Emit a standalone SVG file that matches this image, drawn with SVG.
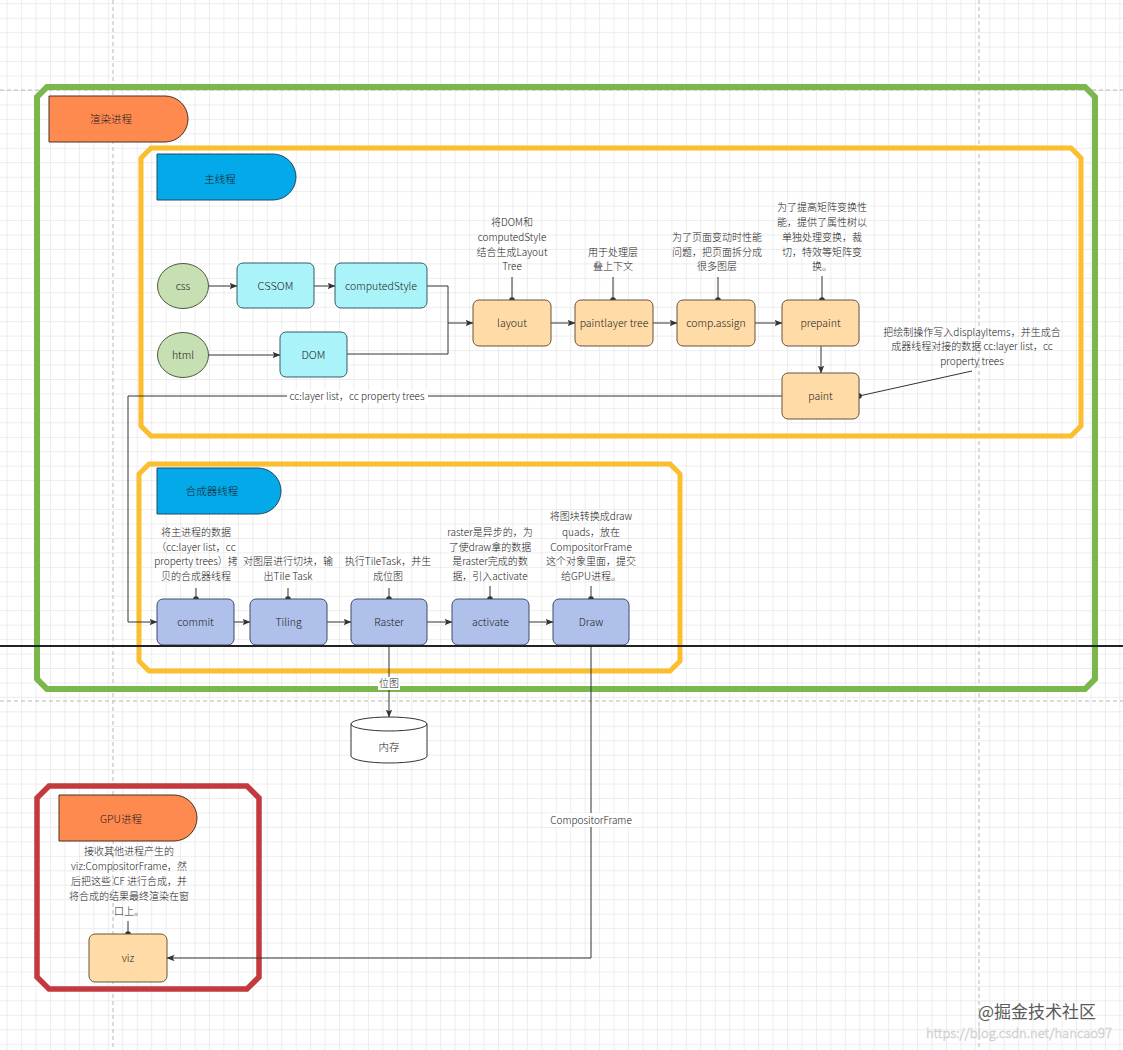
<svg xmlns="http://www.w3.org/2000/svg" width="1123" height="1050" viewBox="0 0 1123 1050">
<defs>
<pattern id="grid" x="6.7" y="3.3" width="14.45" height="14.45" patternUnits="userSpaceOnUse">
<path d="M0,0 H14.45 M0,0 V14.45" fill="none" stroke="#dcdcdc" stroke-width="1"/>
</pattern>
<marker id="arr" viewBox="0 0 8 8" refX="7.5" refY="4" markerWidth="8" markerHeight="8" markerUnits="userSpaceOnUse" orient="auto">
<path d="M0,0.8 L8,4 L0,7.2 L1.8,4 Z" fill="#333"/>
</marker>
<style>
text{font-family:"Noto Sans CJK SC","Noto Sans",sans-serif;fill:#1a1a1a;font-weight:300;}
.lbl{font-size:10.5px;text-anchor:middle;}
.ann{font-size:10px;text-anchor:middle;}
.tab{stroke:#4a3020;stroke-width:1;}
.orangeTab{fill:#FF8A50;}
.blueTab{fill:#03A9E8;stroke:#1d4a66;stroke-width:1;}
.ell{fill:#C6E0B4;stroke:#4c5c3c;stroke-width:1;}
.cyan{fill:#AAF4F9;stroke:#35596a;stroke-width:1;}
.org{fill:#FFDBA8;stroke:#6a5236;stroke-width:1;}
.blu{fill:#AFC0EA;stroke:#3e4a6a;stroke-width:1;}
.edge{fill:none;stroke:#333;stroke-width:1;}
.dot{fill:#333;}
.box{fill:none;stroke-linejoin:miter;}
</style>
</defs>

<rect width="1123" height="1050" fill="#ffffff"/>
<rect width="1123" height="1050" fill="url(#grid)"/>
<g id="page-breaks" stroke="#b8b8b8" stroke-width="1" stroke-dasharray="4,3" fill="none">
<path d="M0,90 H1123"/>
<path d="M0,701 H1123"/>
<path d="M113,0 V1050"/>
<path d="M979,0 V1050"/>
</g>

<!-- containers -->
<g id="render-process">
<polygon class="box" points="47,87 1085,87 1095,97 1095,679 1085,689 47,689 37,679 37,97" stroke="#7CB74D" stroke-width="6"/>
</g>
<g id="main-thread">
<polygon class="box" points="151,148 1071,148 1081,158 1081,426 1071,436 151,436 141,426 141,158" stroke="#FBBE2E" stroke-width="5"/>
</g>
<g id="compositor-thread">
<polygon class="box" points="149,464 670,464 680,474 680,661 670,671 149,671 139,661 139,474" stroke="#FBBE2E" stroke-width="5"/>
</g>
<g id="gpu-process">
<polygon class="box" points="49,786 247,786 259,798 259,977 247,989 49,989 37,977 37,798" stroke="#C4393D" stroke-width="5.5"/>
</g>

<!-- tabs -->
<g id="tab-render">
<path class="orangeTab tab" d="M49,96 H165 A23,23 0 0 1 165,142 H49 Z"/>
<text class="lbl" x="111" y="123">渲染进程</text>
</g>
<g id="tab-main">
<path class="blueTab" d="M157,154 H273 A23,23 0 0 1 273,200 H157 Z"/>
<text class="lbl" x="220" y="183">主线程</text>
</g>
<g id="tab-compositor">
<path class="blueTab" d="M157,468 H258 A23,23 0 0 1 258,514 H157 Z"/>
<text class="lbl" x="212" y="495">合成器线程</text>
</g>
<g id="tab-gpu">
<path class="orangeTab tab" d="M59,795 H174 A23,23 0 0 1 174,841 H59 Z"/>
<text class="lbl" x="121" y="823">GPU进程</text>
</g>

<!-- connectors -->
<g id="connectors">
<path class="edge" d="M208,286 H237" marker-end="url(#arr)"/>
<path class="edge" d="M314,286 H335" marker-end="url(#arr)"/>
<path class="edge" d="M208,355 H280" marker-end="url(#arr)"/>
<path class="edge" d="M427,286 H448 V323 H473" marker-end="url(#arr)"/>
<path class="edge" d="M347,354 H448 V323"/>
<path class="edge" d="M551,323 H575" marker-end="url(#arr)"/>
<path class="edge" d="M653,323 H677" marker-end="url(#arr)"/>
<path class="edge" d="M755,323 H782" marker-end="url(#arr)"/>
<path class="edge" d="M821,346 V373" marker-end="url(#arr)"/>
<path class="edge" d="M782,396 H128 V622 H157" marker-end="url(#arr)"/>
<path class="edge" d="M234,622 H250" marker-end="url(#arr)"/>
<path class="edge" d="M327,622 H351" marker-end="url(#arr)"/>
<path class="edge" d="M427,622 H452" marker-end="url(#arr)"/>
<path class="edge" d="M529,622 H553" marker-end="url(#arr)"/>
<path class="edge" d="M389,645 V717" marker-end="url(#arr)"/>
<path class="edge" d="M591,645 V958 H167" marker-end="url(#arr)"/>
<!-- annotation leaders -->
<path class="edge" d="M512,277 V300"/>
<path class="edge" d="M613,277 V300"/>
<path class="edge" d="M718,277 V300"/>
<path class="edge" d="M822,276 V300"/>
<path class="edge" d="M972,371 L859,396"/>
<path class="edge" d="M196,588 V599"/>
<path class="edge" d="M288,588 V599"/>
<path class="edge" d="M389,588 V599"/>
<path class="edge" d="M490,586 V599"/>
<path class="edge" d="M591,586 V599"/>
<path class="edge" d="M128,921 V934"/>
<circle class="dot" cx="512" cy="300" r="2.8"/>
<circle class="dot" cx="613" cy="300" r="2.8"/>
<circle class="dot" cx="718" cy="300" r="2.8"/>
<circle class="dot" cx="822" cy="300" r="2.8"/>
<circle class="dot" cx="859" cy="396" r="2.8"/>
<circle class="dot" cx="196" cy="599" r="2.8"/>
<circle class="dot" cx="288" cy="599" r="2.8"/>
<circle class="dot" cx="389" cy="599" r="2.8"/>
<circle class="dot" cx="490" cy="599" r="2.8"/>
<circle class="dot" cx="591" cy="599" r="2.8"/>
<circle class="dot" cx="128" cy="934" r="2.8"/>
<!-- edge labels -->
<rect x="287" y="390" width="141" height="13" fill="#ffffff"/>
<text class="ann" x="357" y="400">cc:layer list，cc property trees</text>
<rect x="378" y="677" width="22" height="13" fill="#ffffff"/>
<text class="ann" x="389" y="687">位图</text>
<rect x="548" y="813" width="87" height="14" fill="#ffffff"/>
<text class="ann" x="591" y="824">CompositorFrame</text>
</g>

<!-- main thread nodes -->
<g id="node-css">
<ellipse class="ell" cx="183" cy="286" rx="25.5" ry="22.5"/>
<text class="lbl" x="183" y="290">css</text>
</g>
<g id="node-html">
<ellipse class="ell" cx="183" cy="355" rx="25.5" ry="22.5"/>
<text class="lbl" x="183" y="359">html</text>
</g>
<g id="node-cssom">
<rect class="cyan" x="237" y="263" width="77" height="45" rx="6"/>
<text class="lbl" x="275.5" y="290" style="font-size:11px">CSSOM</text>
</g>
<g id="node-computedStyle">
<rect class="cyan" x="335" y="263" width="92" height="45" rx="6"/>
<text class="lbl" x="381" y="290">computedStyle</text>
</g>
<g id="node-dom">
<rect class="cyan" x="280" y="332" width="67" height="45" rx="6"/>
<text class="lbl" x="313.5" y="359" style="font-size:11px">DOM</text>
</g>
<g id="node-layout">
<rect class="org" x="473" y="300" width="78" height="46" rx="6"/>
<text class="lbl" x="512" y="327">layout</text>
<text class="ann"><tspan x="512" y="226">将DOM和</tspan><tspan x="512" y="241">computedStyle</tspan><tspan x="512" y="256">结合生成Layout</tspan><tspan x="512" y="270">Tree</tspan></text>
</g>
<g id="node-paintlayer">
<rect class="org" x="575" y="300" width="78" height="46" rx="6"/>
<text class="lbl" x="614" y="327">paintlayer tree</text>
<text class="ann"><tspan x="613" y="256">用于处理层</tspan><tspan x="613" y="270">叠上下文</tspan></text>
</g>
<g id="node-compassign">
<rect class="org" x="677" y="300" width="78" height="46" rx="6"/>
<text class="lbl" x="716" y="327">comp.assign</text>
<text class="ann"><tspan x="717" y="241">为了页面变动时性能</tspan><tspan x="717" y="256">问题，把页面拆分成</tspan><tspan x="717" y="270">很多图层</tspan></text>
</g>
<g id="node-prepaint">
<rect class="org" x="782" y="300" width="77" height="46" rx="6"/>
<text class="lbl" x="820.5" y="327">prepaint</text>
<text class="ann"><tspan x="822" y="211">为了提高矩阵变换性</tspan><tspan x="822" y="226">能，提供了属性树以</tspan><tspan x="822" y="241">单独处理变换，裁</tspan><tspan x="822" y="256">切，特效等矩阵变</tspan><tspan x="822" y="270">换。</tspan></text>
</g>
<g id="node-paint">
<rect class="org" x="782" y="373" width="77" height="46" rx="6"/>
<text class="lbl" x="820.5" y="400">paint</text>
<text class="ann"><tspan x="972" y="336">把绘制操作写入displayItems，并生成合</tspan><tspan x="972" y="350">成器线程对接的数据 cc:layer list，cc</tspan><tspan x="972" y="365">property trees</tspan></text>
</g>

<!-- compositor nodes -->
<g id="node-commit">
<rect class="blu" x="157" y="599" width="77" height="46" rx="6"/>
<text class="lbl" x="195.5" y="626">commit</text>
<text class="ann"><tspan x="196" y="536">将主进程的数据</tspan><tspan x="196" y="551">（cc:layer list，cc</tspan><tspan x="196" y="565">property trees）拷</tspan><tspan x="196" y="580">贝的合成器线程</tspan></text>
</g>
<g id="node-tiling">
<rect class="blu" x="250" y="599" width="77" height="46" rx="6"/>
<text class="lbl" x="288.5" y="626">Tiling</text>
<text class="ann"><tspan x="288" y="565">对图层进行切块，输</tspan><tspan x="288" y="580">出Tile Task</tspan></text>
</g>
<g id="node-raster">
<rect class="blu" x="351" y="599" width="76" height="46" rx="6"/>
<text class="lbl" x="389" y="626">Raster</text>
<text class="ann"><tspan x="388" y="565">执行TileTask，并生</tspan><tspan x="388" y="580">成位图</tspan></text>
</g>
<g id="node-activate">
<rect class="blu" x="452" y="599" width="77" height="46" rx="6"/>
<text class="lbl" x="490.5" y="626">activate</text>
<text class="ann"><tspan x="490" y="536">raster是异步的，为</tspan><tspan x="490" y="551">了使draw拿的数据</tspan><tspan x="490" y="565">是raster完成的数</tspan><tspan x="490" y="580">据，引入activate</tspan></text>
</g>
<g id="node-draw">
<rect class="blu" x="553" y="599" width="76" height="46" rx="6"/>
<text class="lbl" x="591" y="626">Draw</text>
<text class="ann"><tspan x="591" y="520">将图块转换成draw</tspan><tspan x="591" y="536">quads，放在</tspan><tspan x="591" y="551">CompositorFrame</tspan><tspan x="591" y="565">这个对象里面，提交</tspan><tspan x="591" y="580">给GPU进程。</tspan></text>
</g>

<!-- memory -->
<g id="node-memory">
<path d="M351,724 A38,7 0 0 1 427,724 V756 A38,7 0 0 1 351,756 Z" fill="#ffffff" stroke="#333" stroke-width="1"/>
<path d="M351,724 A38,7 0 0 0 427,724" fill="none" stroke="#333" stroke-width="1"/>
<text class="lbl" x="389" y="751">内存</text>
</g>

<!-- GPU -->
<g id="node-viz">
<rect class="org" x="89" y="934" width="78" height="48" rx="6"/>
<text class="lbl" x="128" y="962">viz</text>
<text class="ann"><tspan x="129" y="855">接收其他进程产生的</tspan><tspan x="129" y="870">viz:CompositorFrame，然</tspan><tspan x="129" y="885">后把这些 CF 进行合成，并</tspan><tspan x="129" y="900">将合成的结果最终渲染在窗</tspan><tspan x="129" y="915">口上。</tspan></text>
</g>

<!-- black horizontal line -->
<g id="divider">
<path d="M0,646 H1123" stroke="#222" stroke-width="2" fill="none"/>
</g>

<!-- watermark -->
<g id="watermark">
<text x="1096" y="1018" style="font-size:17px;text-anchor:end;fill:#5a5a5a;font-weight:400">@掘金技术社区</text>
<text x="1112" y="1038" style="font-size:13px;text-anchor:end;fill:#ffffff;stroke:#d0d0d0;stroke-width:0.6">https://blog.csdn.net/hancao97</text>
</g>
</svg>
